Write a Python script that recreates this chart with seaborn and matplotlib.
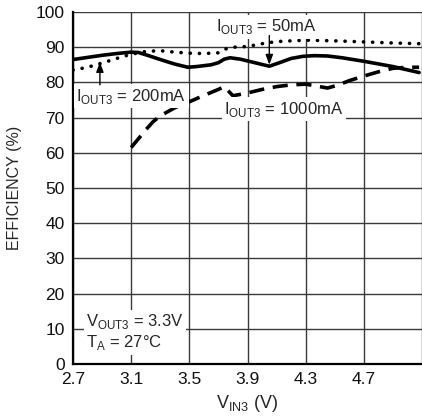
import numpy as np
import pandas as pd
import matplotlib
matplotlib.use("Agg")
import matplotlib.pyplot as plt
import seaborn as sns

# ── Data ─────────────────────────────────────────────────────────────────────
V_200 = [2.70, 2.80, 2.90, 3.00, 3.10, 3.15, 3.22, 3.30, 3.40, 3.49, 3.55,
         3.65, 3.70, 3.74, 3.78, 3.85, 3.95, 4.05, 4.12, 4.20, 4.28, 4.36,
         4.45, 4.55, 4.70, 4.90, 5.08]
EFF_200 = [86.5, 87.1, 87.7, 88.2, 88.6, 88.5, 87.6, 86.5, 85.2, 84.3, 84.5,
           85.0, 85.6, 86.6, 87.0, 86.6, 85.6, 84.6, 85.6, 86.8, 87.4, 87.6,
           87.5, 87.0, 86.0, 84.5, 82.8]

V_50 = [2.70, 2.80, 2.90, 3.00, 3.10, 3.20, 3.30, 3.40, 3.50, 3.60, 3.70,
        3.75, 3.80, 3.90, 4.00, 4.10, 4.30, 4.50, 4.70, 4.90, 5.08]
EFF_50 = [83.5, 84.3, 85.5, 86.8, 88.0, 88.8, 89.0, 88.6, 88.3, 88.2, 88.4,
          89.5, 90.0, 90.2, 91.0, 91.6, 92.0, 91.8, 91.5, 91.2, 91.0]

V_1000 = [3.10, 3.15, 3.20, 3.25, 3.30, 3.40, 3.50, 3.60, 3.70, 3.74, 3.80,
          3.90, 4.00, 4.10, 4.20, 4.30, 4.37, 4.45, 4.52, 4.60, 4.70, 4.80,
          4.90, 5.00, 5.08]
EFF_1000 = [61.5, 64.0, 66.5, 68.8, 70.5, 72.8, 74.5, 76.3, 78.0, 78.8, 76.2,
            77.0, 78.0, 78.8, 79.3, 79.5, 79.0, 78.4, 79.2, 80.5, 81.8, 83.0,
            84.0, 84.3, 84.3]

X_TICKS = [2.7, 3.1, 3.5, 3.9, 4.3, 4.7, 5.1]
Y_TICKS = list(range(0, 101, 10))

FONT = ["Liberation Sans Narrow", "Liberation Sans", "DejaVu Sans"]

sns.set_style("white")
plt.rcParams["font.family"] = FONT
plt.rcParams["mathtext.fontset"] = "custom"
plt.rcParams["mathtext.rm"] = "Liberation Sans Narrow"

fig = plt.figure(figsize=(4.22, 4.20), dpi=100)
ax = fig.add_axes([73 / 422, 56 / 420, 349 / 422, 352 / 420])

# ── Curves ───────────────────────────────────────────────────────────────────
sns.lineplot(x=V_200, y=EFF_200, color="black", lw=2.6, sort=False, ax=ax,
             solid_joinstyle="round")
sns.lineplot(x=V_50, y=EFF_50, color="black", lw=2.6, sort=False, ax=ax,
             linestyle=(0, (0.05, 2.5)), dash_capstyle="round")
sns.lineplot(x=V_1000, y=EFF_1000, color="black", lw=2.6, sort=False, ax=ax,
             linestyle=(0, (4.2, 2.4)))

# ── Axes styling ─────────────────────────────────────────────────────────────
ax.set_xlim(2.7, 5.08)
ax.set_ylim(0, 100)
ax.set_xticks(X_TICKS)
ax.set_xticklabels([f"{v:.1f}" for v in X_TICKS[:-1]] + [""])
ax.set_yticks(Y_TICKS)
ax.tick_params(length=0, labelsize=12.5, pad=6, colors="#111111")
ax.grid(True, color="#3a3a3a", lw=1.0)
ax.set_axisbelow(True)
for side in ["top", "right"]:
    ax.spines[side].set_visible(False)
for side in ["left", "bottom"]:
    ax.spines[side].set_color("black")
    ax.spines[side].set_linewidth(1.6)

ax.set_ylabel("EFFICIENCY (%)", fontsize=11.5, labelpad=10)
ax.set_xlabel(r"V$_{\mathregular{IN3}}$ (V)", fontsize=13, labelpad=4)

# ── Annotations ──────────────────────────────────────────────────────────────
box = dict(boxstyle="square,pad=0.15", fc="white", ec="none")
arrow = dict(arrowstyle="-|>,head_length=0.6,head_width=0.22", color="black",
             lw=1.0, shrinkA=0, shrinkB=0)

ax.text(4.03, 95.8, r"I$_{\mathregular{OUT3}}$ = 50mA", fontsize=12,
        ha="center", va="center", bbox=box)
ax.annotate("", xy=(4.05, 85.0), xytext=(4.05, 93.3), arrowprops=arrow)

ax.text(3.10, 76.0, r"I$_{\mathregular{OUT3}}$ = 200mA", fontsize=12,
        ha="center", va="center", bbox=box)
ax.annotate("", xy=(2.885, 85.8), xytext=(2.885, 79.3), arrowprops=arrow)

ax.text(4.15, 72.4, r"I$_{\mathregular{OUT3}}$ = 1000mA", fontsize=12,
        ha="center", va="center", bbox=box)

ax.text(2.79, 12.0, r"V$_{\mathregular{OUT3}}$ = 3.3V", fontsize=12,
        ha="left", va="center", bbox=box)
ax.text(2.79, 6.0, r"T$_{\mathregular{A}}$ = 27°C", fontsize=12,
        ha="left", va="center", bbox=box)

fig.savefig("out.png", dpi=100)
